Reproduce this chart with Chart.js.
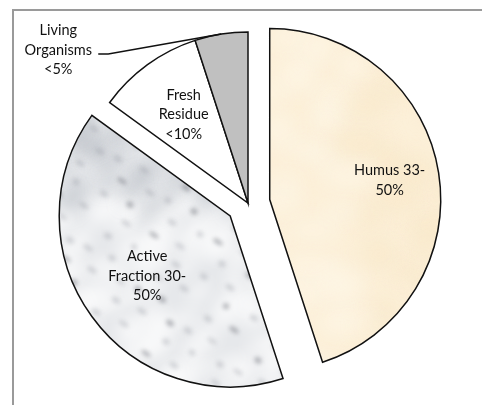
<!DOCTYPE html>
<html>
<head>
<meta charset="utf-8">
<script src="https://cdn.jsdelivr.net/npm/chart.js@4.4.1/dist/chart.umd.min.js"></script>
<style>
  html, body { margin: 0; padding: 0; background: #fff; overflow: hidden; }
  #wrap { position: relative; width: 482px; height: 405px; overflow: hidden; }
  #frame {
    position: absolute; left: 12px; top: 9px; width: 500px; height: 430px;
    border-left: 2px solid #9a9a9a; border-top: 2px solid #9a9a9a;
  }
  #myChart { position: absolute; left: 0; top: 0; }
</style>
</head>
<body>
<div id="wrap">
  <div id="frame"></div>
  <canvas id="myChart" width="482" height="405"></canvas>
</div>
<script>
// slices, clockwise from 12 o'clock
var categories = ["Humus 33-50%", "Active Fraction 30-50%", "Fresh Residue <10%", "Living Organisms <5%"];
var labelLines = [["Humus 33-", "50%"], ["Active", "Fraction 30-", "50%"], ["Fresh", "Residue", "<10%"], ["Living", "Organisms", "<5%"]];
var shares = [45, 40, 10, 5];

// low-discrepancy sequence, used only to spread texture spots evenly
function halton(i, b) {
  var f = 1, r = 0;
  while (i > 0) { f = f / b; r += f * (i % b); i = Math.floor(i / b); }
  return r;
}

// textures for the two big slices, one tile the size of the canvas
function makeParchment() {
  var c = document.createElement("canvas");
  c.width = 482; c.height = 405;
  var g = c.getContext("2d");
  g.fillStyle = "#fcf0d9";
  g.fillRect(0, 0, 482, 405);
  g.filter = "blur(10px)";
  for (var k = 1; k < 50; k++) {
    var x = 260 + 200 * halton(k, 2);
    var y = 20 + 370 * halton(k, 3);
    g.fillStyle = k % 2 ? "rgba(245,226,190,0.35)" : "rgba(255,249,236,0.55)";
    g.beginPath();
    g.ellipse(x, y, 22 + 8 * Math.sin(k), 12 + 5 * Math.cos(k), 0, 0, Math.PI * 2);
    g.fill();
  }
  return g.createPattern(c, "no-repeat");
}

function makeMarble() {
  var c = document.createElement("canvas");
  c.width = 482; c.height = 405;
  var g = c.getContext("2d");
  g.fillStyle = "#e6e8eb";
  g.fillRect(0, 0, 482, 405);
  // soft light and grey clouds
  g.filter = "blur(8px)";
  for (var k = 1; k < 90; k++) {
    var x = 50 + 250 * halton(k, 2);
    var y = 110 + 290 * halton(k, 3);
    g.fillStyle = k % 3 === 0 ? "rgba(150,154,164,0.3)" : "rgba(255,255,255,0.7)";
    g.beginPath();
    g.ellipse(x, y, 18 + 8 * Math.sin(k * 0.9), 9 + 4 * Math.cos(k * 1.1), -0.7 + 0.4 * Math.sin(k), 0, Math.PI * 2);
    g.fill();
  }
  // darker speckles
  g.filter = "blur(2px)";
  for (var s = 1; s < 120; s++) {
    var fx = 50 + 250 * halton(s, 5);
    var fy = 110 + 290 * halton(s, 7);
    g.fillStyle = s % 4 === 0 ? "rgba(85,88,98,0.4)" : "rgba(135,139,150,0.3)";
    g.beginPath();
    g.ellipse(fx, fy, 3 + 2.5 * Math.abs(Math.sin(s)), 2 + Math.abs(Math.cos(s)), 0.6, 0, Math.PI * 2);
    g.fill();
  }
  return g.createPattern(c, "no-repeat");
}

var sliceColors = [makeParchment(), makeMarble(), "#ffffff", "#c0c0c0"];

// pull some slices out from the centre, without growing them
var explode = {
  id: "explode",
  afterDatasetUpdate: function (chart, args, opts) {
    var arcs = chart.getDatasetMeta(args.index).data;
    arcs.forEach(function (arc, i) {
      var d = opts.dist[i] || 0;
      var mid = (arc.startAngle + arc.endAngle) / 2;
      arc.x += Math.cos(mid) * d;
      arc.y += Math.sin(mid) * d;
    });
  }
};

var sliceLabels = {
  id: "sliceLabels",
  afterDatasetsDraw: function (chart, args, opts) {
    var ctx = chart.ctx;
    var arcs = chart.getDatasetMeta(0).data;
    ctx.save();
    ctx.font = opts.font;
    ctx.fillStyle = "#111";
    ctx.textAlign = "center";
    ctx.textBaseline = "middle";
    arcs.forEach(function (arc, i) {
      var lines = labelLines[i];
      var mid = (arc.startAngle + arc.endAngle) / 2;
      var cx, cy;
      if (opts.outside[i]) {
        // leader line from the rim to a label on the left
        var px = arc.x + Math.cos(mid) * arc.outerRadius;
        var py = arc.y + Math.sin(mid) * arc.outerRadius;
        ctx.strokeStyle = "#111";
        ctx.lineWidth = 1.5;
        ctx.beginPath();
        ctx.moveTo(px, py);
        ctx.lineTo(px - 113, py + 20);
        ctx.lineTo(px - 123, py + 20);
        ctx.stroke();
        cx = px - 163;
        cy = py + 16;
      } else {
        var r = arc.outerRadius * opts.at[i];
        cx = arc.x + Math.cos(mid) * r;
        cy = arc.y + Math.sin(mid) * r;
      }
      var top = cy - (lines.length - 1) * opts.lineHeight / 2;
      lines.forEach(function (t, j) {
        ctx.fillText(t, cx, top + j * opts.lineHeight);
      });
    });
    ctx.restore();
  }
};

function chart() {
  var ctx = document.getElementById("myChart");
  new Chart(ctx, {
    type: "pie",
    data: {
      labels: categories,
      datasets: [
        {
          data: shares,
          backgroundColor: sliceColors,
          borderColor: "#111111",
          borderWidth: 1.5,
          borderJoinStyle: "miter",
        },
      ],
    },
    options: {
      responsive: false,
      animation: false,
      devicePixelRatio: 1,
      radius: 171,
      layout: { padding: { left: 14, right: 0, top: 1, bottom: 0 } },
      plugins: {
        legend: { display: false },
        tooltip: { enabled: false },
        explode: { dist: [22, 22, 0, 0] },
        sliceLabels: {
          font: "14.5px Lato, 'Open Sans', sans-serif",
          lineHeight: 19.5,
          at: [0.71, 0.6, 0.64, 0],
          outside: [false, false, false, true],
        },
      },
    },
    plugins: [explode, sliceLabels],
  });
}

chart();
</script>
</body>
</html>
